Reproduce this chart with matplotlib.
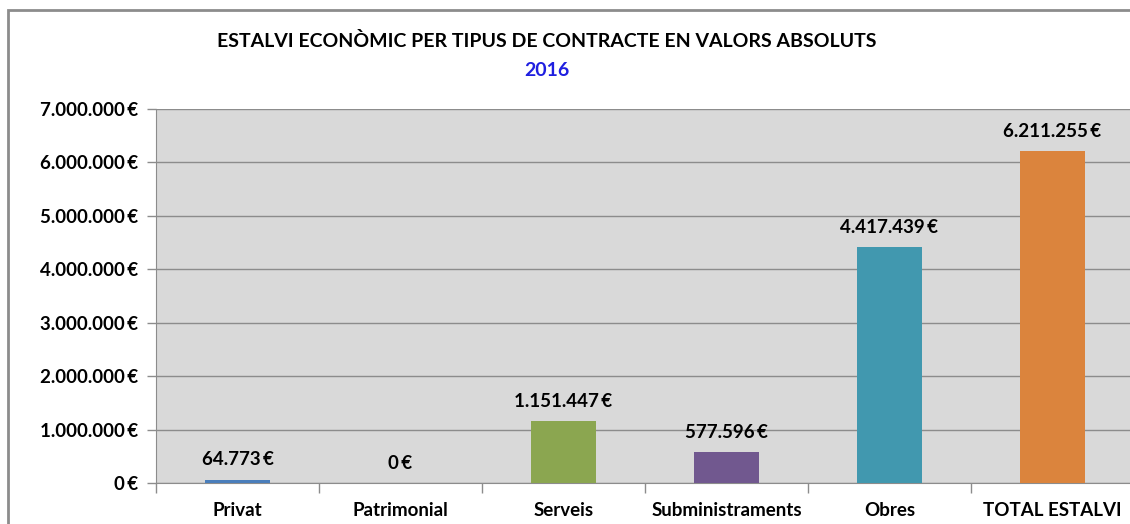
import matplotlib.pyplot as plt
from matplotlib.patches import Rectangle
from matplotlib.ticker import FuncFormatter, MultipleLocator

categories = ["Privat", "Patrimonial", "Serveis", "Subministraments", "Obres", "TOTAL ESTALVI"]
values = [64773, 0, 1151447, 577596, 4417439, 6211255]
colors = ["#4A7EBB", "#4A7EBB", "#8BA650", "#71588F", "#4198AF", "#DB843D"]

plt.rcParams["font.family"] = ["Lato", "DejaVu Sans"]


def euro(v, pos=None):
    return "{:,.0f}\u2009€".format(v).replace(",", ".")


fig = plt.figure(figsize=(11.3, 5.24), dpi=100)
ax = fig.add_axes([156 / 1130, 41 / 524, 978 / 1130, 374 / 524])

x = range(len(categories))
ax.bar(x, values, width=0.4, color=colors, zorder=3)
for i, v in zip(x, values):
    ax.annotate(euro(v), (i, v), xytext=(0, 8), textcoords="offset points",
                ha="center", va="bottom", fontsize=13.5, fontweight="bold", zorder=4)

ax.set_xlim(-0.5, len(categories) - 0.5)
ax.set_ylim(0, 7000000)
ax.set_facecolor("#D9D9D9")
ax.yaxis.set_major_locator(MultipleLocator(1000000))
ax.yaxis.set_major_formatter(FuncFormatter(euro))
ax.grid(axis="y", color="#8C8C8C", linewidth=1, zorder=1)

ax.set_xticks(x)
ax.set_xticklabels(categories, fontsize=13.5, fontweight="bold")
ax.set_xticks([i - 0.5 for i in x], minor=True)
ax.tick_params(axis="x", which="major", length=0, pad=14)
ax.tick_params(axis="x", which="minor", length=7, color="#8C8C8C", width=1)
ax.tick_params(axis="y", length=6.5, color="#8C8C8C", width=1, labelsize=13.5, pad=6.5)
for lbl in ax.get_yticklabels():
    lbl.set_fontweight("bold")

for s in ["top", "right"]:
    ax.spines[s].set_visible(False)
ax.spines["left"].set_color("#8C8C8C")
ax.spines["bottom"].set_color("#8C8C8C")

fig.patches.append(Rectangle((8 / 1130, -0.1), 1.2, 1 - 10 / 524 + 0.1,
                             transform=fig.transFigure, fill=False,
                             edgecolor="#8C8C8C", linewidth=2))

fig.text(547 / 1130, 1 - 41 / 524, "ESTALVI ECONÒMIC PER TIPUS DE CONTRACTE EN VALORS ABSOLUTS",
         ha="center", va="center", fontsize=14, fontweight="bold")
fig.text(547 / 1130, 1 - 70 / 524, "2016", ha="center", va="center",
         fontsize=14, fontweight="bold", color="#1F1FE0")

fig.savefig("out.png", dpi=100)
